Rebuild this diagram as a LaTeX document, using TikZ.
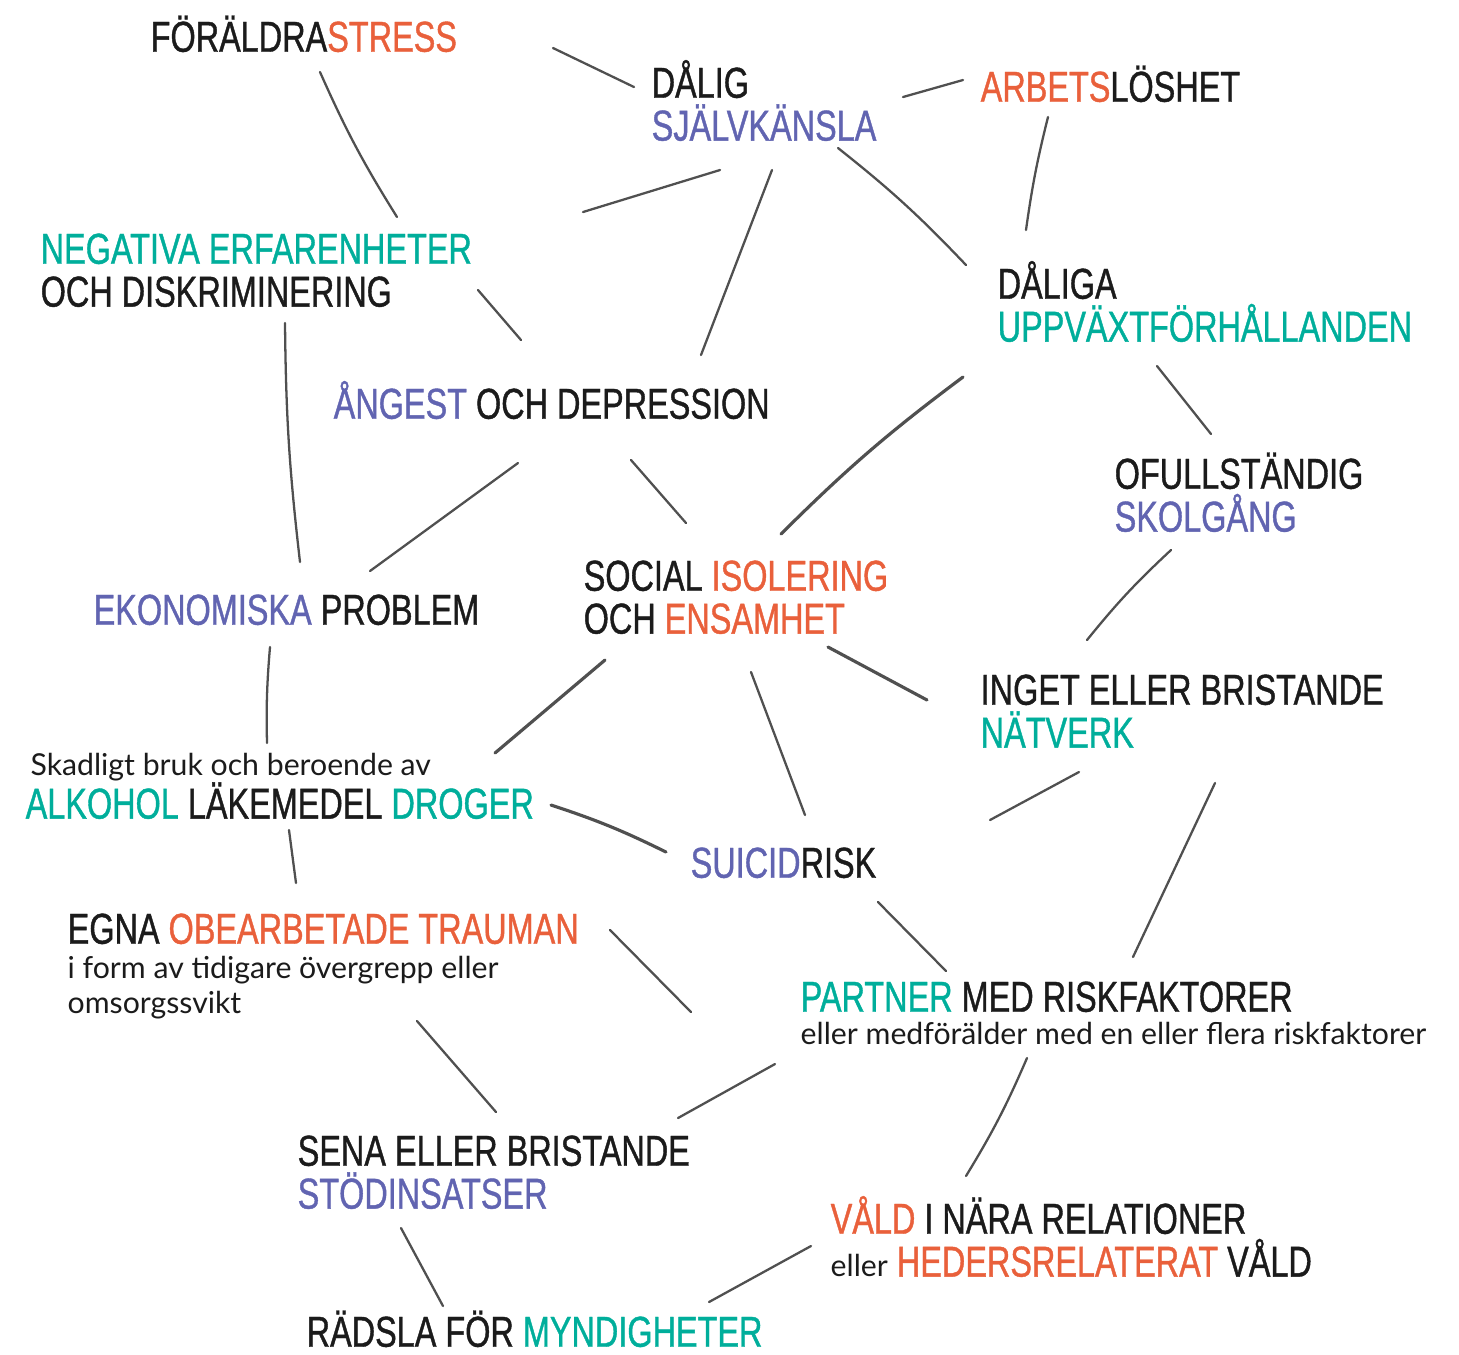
\documentclass[tikz,border=0pt]{standalone}
\usepackage{fontspec}
\setmainfont{Lato}
\newfontfamily\headfont[FakeStretch=0.75, FakeBold=0.9]{Liberation Sans}
\usepackage{tikz}
\usetikzlibrary{positioning, calc}

\definecolor{rsorange}{HTML}{E9603B}
\definecolor{rspurple}{HTML}{6164B1}
\definecolor{rsteal}{HTML}{00AE9B}
\definecolor{rsblack}{HTML}{1B1B1B}
\definecolor{rsgray}{HTML}{505050}

\newcommand{\org}[1]{\textcolor{rsorange}{#1}}
\newcommand{\pur}[1]{\textcolor{rspurple}{#1}}
\newcommand{\tea}[1]{\textcolor{rsteal}{#1}}
\newcommand{\smallnote}[1]{{\normalfont\fontsize{8.6}{10}\selectfont #1}}
\newcommand{\tstrut}{\rule{0pt}{11.38pt}}

\begin{document}
\begin{tikzpicture}[
    x=0.1mm, y=-0.1mm,
    factor/.style={anchor=north west, inner sep=0pt, align=left, text=rsblack,
                   font=\headfont\fontsize{12.3}{12.2}\selectfont},
    link/.style={draw=rsgray, line width=0.65pt, line cap=round},
    darklink/.style={link, line width=0.9pt}
]
    \useasboundingbox (0,0) rectangle (1459,1354);

    % risk factors
    \node[factor] (FStress) at (150,11)   {\tstrut FÖRÄLDRA\org{STRESS}};
    \node[factor] (DSelf)   at (651,57)   {\tstrut DÅLIG\\\pur{SJÄLVKÄNSLA}};
    \node[factor] (ALos)    at (980,61)   {\tstrut \org{ARBETS}LÖSHET};
    \node[factor] (NegErf)  at (40,223)   {\tstrut \tea{NEGATIVA ERFARENHETER}\\OCH DISKRIMINERING};
    \node[factor] (DUpp)    at (997,258)  {\tstrut DÅLIGA\\\tea{UPPVÄXTFÖRHÅLLANDEN}};
    \node[factor] (AngDep)  at (333,378)  {\tstrut \pur{ÅNGEST} OCH DEPRESSION};
    \node[factor] (OSkola)  at (1114,448) {\tstrut OFULLSTÄNDIG\\\pur{SKOLGÅNG}};
    \node[factor] (EkProb)  at (93,584)   {\tstrut \pur{EKONOMISKA} PROBLEM};
    \node[factor] (SocIso)  at (583,550)  {\tstrut SOCIAL \org{ISOLERING}\\OCH \org{ENSAMHET}};
    \node[factor] (INat)    at (980,664)  {\tstrut INGET ELLER BRISTANDE\\\tea{NÄTVERK}};
    \node[factor] (AlkDr)   at (25,735)   {\tstrut \hspace{1.4pt}\smallnote{Skadligt bruk och beroende av}\\\tea{ALKOHOL} LÄKEMEDEL \tea{DROGER}};
    \node[factor] (Suic)    at (690,837)  {\tstrut \pur{SUICID}RISK};
    \node[factor] (ETrau)   at (67,903)   {\tstrut EGNA \org{OBEARBETADE TRAUMAN}\\[-2.3pt]\smallnote{i form av tidigare övergrepp eller}\\[-2.3pt]\smallnote{omsorgssvikt}};
    \node[factor] (PartR)   at (800,971)  {\tstrut \tea{PARTNER} MED RISKFAKTORER\\[-2.8pt]\smallnote{eller medförälder med en eller flera riskfaktorer}};
    \node[factor] (SenaSt)  at (297,1125) {\tstrut SENA ELLER BRISTANDE\\\pur{STÖDINSATSER}};
    \node[factor] (VaNR)    at (830,1193) {\tstrut \org{VÅLD} I NÄRA RELATIONER\\\smallnote{eller} \org{HEDERSRELATERAT} VÅLD};
    \node[factor] (RadM)    at (306,1306) {\tstrut RÄDSLA FÖR \tea{MYNDIGHETER}};

    % pencil lines between the factors
    \draw[link] ([shift={(403,37)}]FStress.north west) -- ([shift={(-17,30)}]DSelf.north west);
    \draw[link] ([shift={(252,40)}]DSelf.north west) -- ([shift={(-17,19)}]ALos.north west);
    \draw[link] ([shift={(170,61)}]FStress.north west) to[bend right=4] ([shift={(357,-6)}]NegErf.north west);
    \draw[link] ([shift={(69,113)}]DSelf.north west) -- ([shift={(543,-11)}]NegErf.north west);
    \draw[link] ([shift={(121,113)}]DSelf.north west) -- ([shift={(368,-23)}]AngDep.north west);
    \draw[link] ([shift={(187,91)}]DSelf.north west) to[bend left=4] ([shift={(-31,7)}]DUpp.north west);
    \draw[link] ([shift={(68,56)}]ALos.north west) to[bend right=3] ([shift={(29,-28)}]DUpp.north west);
    \draw[link] ([shift={(438,67)}]NegErf.north west) -- ([shift={(188,-38)}]AngDep.north west);
    \draw[link] ([shift={(245,100)}]NegErf.north west) to[bend right=3] ([shift={(207,-22)}]EkProb.north west);
    \draw[link] ([shift={(185,85)}]AngDep.north west) -- ([shift={(277,-13)}]EkProb.north west);
    \draw[link] ([shift={(298,82)}]AngDep.north west) -- ([shift={(103,-27)}]SocIso.north west);
    \draw[darklink] ([shift={(-34,119)}]DUpp.north west) to[bend right=4] ([shift={(198,-16)}]SocIso.north west);
    \draw[link] ([shift={(160,108)}]DUpp.north west) -- ([shift={(97,-14)}]OSkola.north west);
    \draw[link] ([shift={(57,102)}]OSkola.north west) to[bend right=4] ([shift={(107,-24)}]INat.north west);
    \draw[darklink] ([shift={(245,97)}]SocIso.north west) -- ([shift={(-53,36)}]INat.north west);
    \draw[darklink] ([shift={(22,110)}]SocIso.north west) -- ([shift={(470,18)}]AlkDr.north west);
    \draw[link] ([shift={(168,122)}]SocIso.north west) -- ([shift={(115,-22)}]Suic.north west);
    \draw[link] ([shift={(177,63)}]EkProb.north west) to[bend right=3] ([shift={(242,8)}]AlkDr.north west);
    \draw[darklink] ([shift={(526,70)}]AlkDr.north west) to[bend left=4] ([shift={(-24,15)}]Suic.north west);
    \draw[link] ([shift={(99,108)}]INat.north west) -- ([shift={(300,-17)}]Suic.north west);
    \draw[link] ([shift={(235,119)}]INat.north west) -- ([shift={(333,-14)}]PartR.north west);
    \draw[link] ([shift={(264,95)}]AlkDr.north west) -- ([shift={(229,-20)}]ETrau.north west);
    \draw[link] ([shift={(188,65)}]Suic.north west) -- ([shift={(146,0)}]PartR.north west);
    \draw[link] ([shift={(543,27)}]ETrau.north west) -- ([shift={(-109,41)}]PartR.north west);
    \draw[link] ([shift={(350,118)}]ETrau.north west) -- ([shift={(199,-13)}]SenaSt.north west);
    \draw[link] ([shift={(-25,93)}]PartR.north west) -- ([shift={(381,-7)}]SenaSt.north west);
    \draw[link] ([shift={(227,87)}]PartR.north west) to[bend left=4] ([shift={(136,-17)}]VaNR.north west);
    \draw[link] ([shift={(104,103)}]SenaSt.north west) -- ([shift={(137,0)}]RadM.north west);
    \draw[link] ([shift={(-19,53)}]VaNR.north west) -- ([shift={(403,-4)}]RadM.north west);

\end{tikzpicture}
\end{document}
